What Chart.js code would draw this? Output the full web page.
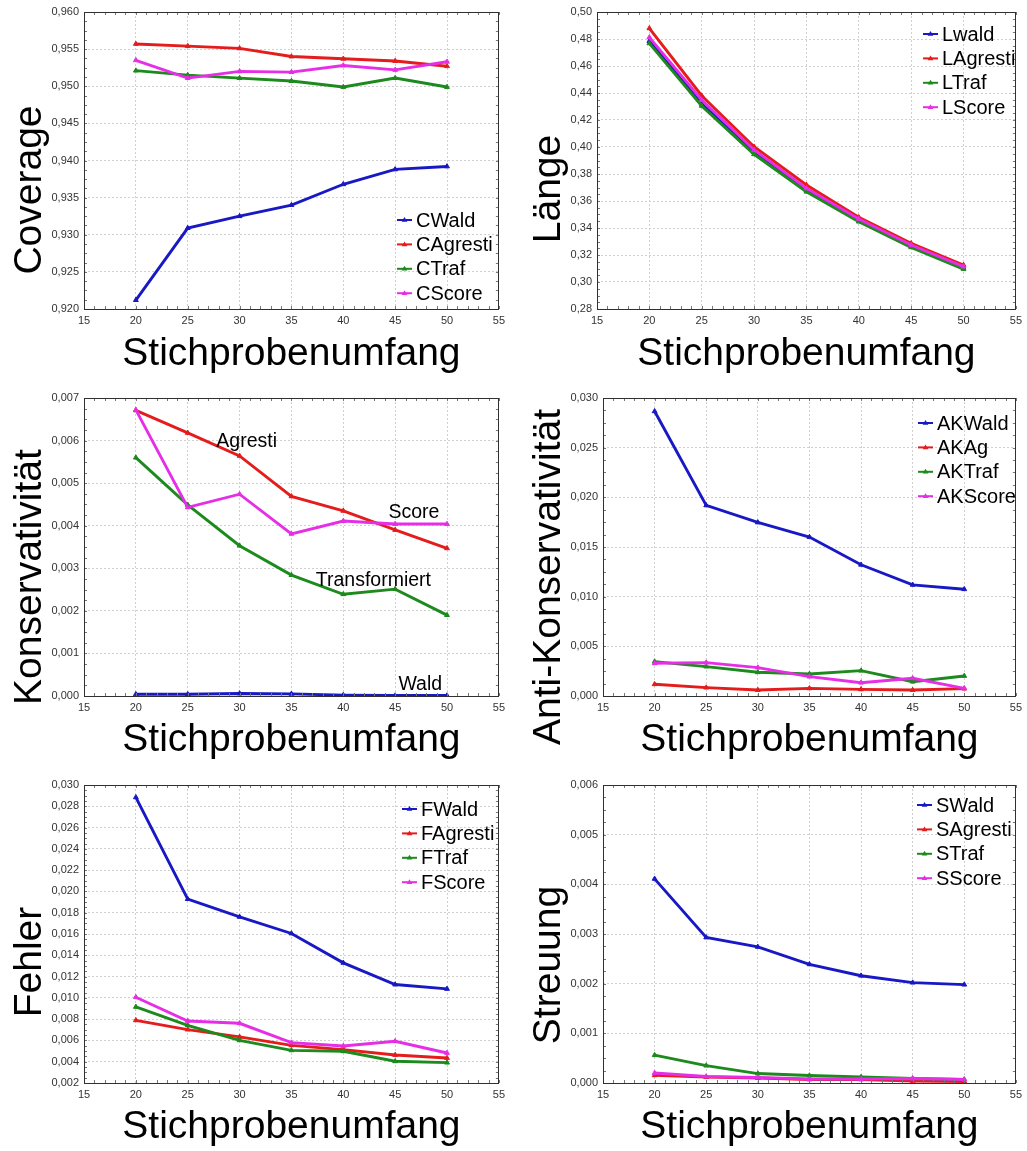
<!DOCTYPE html>
<html>
<head>
<meta charset="utf-8">
<script src="https://cdn.jsdelivr.net/npm/chart.js@4.4.0/dist/chart.umd.min.js"></script>
<style>
html,body{margin:0;padding:0;background:#fff;}
#wrap{position:relative;width:1027px;height:1151px;overflow:hidden;background:#fff;}
.cell{position:absolute;}
canvas{display:block;}
</style>
</head>
<body>
<div id="wrap">
  <div class="cell" style="left:0px;top:0px"><canvas id="c1" width="510" height="380"></canvas></div>
  <div class="cell" style="left:510px;top:0px"><canvas id="c2" width="517" height="380"></canvas></div>
  <div class="cell" style="left:0px;top:380px"><canvas id="c3" width="510" height="380"></canvas></div>
  <div class="cell" style="left:510px;top:380px"><canvas id="c4" width="517" height="380"></canvas></div>
  <div class="cell" style="left:0px;top:760px"><canvas id="c5" width="510" height="391"></canvas></div>
  <div class="cell" style="left:510px;top:760px"><canvas id="c6" width="517" height="391"></canvas></div>
</div>
<script>
// ---------------- DATA ----------------
const sampleSizes = [20, 25, 30, 35, 40, 45, 50];
const xAxisMin = 15, xAxisMax = 55, xAxisStep = 5;
const xAxisTitle = 'Stichprobenumfang';

// Coverage
const cWald    = [0.9212, 0.9309, 0.9325, 0.9340, 0.9368, 0.9388, 0.9392];
const cAgresti = [0.9557, 0.9554, 0.9551, 0.9540, 0.9537, 0.9534, 0.9527];
const cTraf    = [0.9521, 0.9515, 0.9511, 0.9507, 0.9499, 0.9511, 0.9499];
const cScore   = [0.9535, 0.9511, 0.9520, 0.9519, 0.9528, 0.9522, 0.9533];
const cLabels  = ['CWald', 'CAgresti', 'CTraf', 'CScore'];

// Länge
const lWald    = [0.4785, 0.4320, 0.3960, 0.3680, 0.3455, 0.3265, 0.3105];
const lAgresti = [0.4879, 0.4380, 0.4002, 0.3719, 0.3479, 0.3287, 0.3126];
const lTraf    = [0.4768, 0.4304, 0.3946, 0.3669, 0.3447, 0.3257, 0.3096];
const lScore   = [0.4812, 0.4348, 0.3978, 0.3694, 0.3467, 0.3274, 0.3114];
const lLabels  = ['Lwald', 'LAgresti', 'LTraf', 'LScore'];

// Konservativität
const kWald    = [0.00004, 0.00004, 0.00006, 0.00005, 0.00002, 0.00001, 0.00001];
const kAgresti = [0.00671, 0.00618, 0.00564, 0.00469, 0.00435, 0.00390, 0.00347];
const kTraf    = [0.00560, 0.00449, 0.00353, 0.00284, 0.00239, 0.00251, 0.00190];
const kScore   = [0.00672, 0.00443, 0.00474, 0.00381, 0.00411, 0.00404, 0.00404];
const kLabels  = ['Wald', 'Agresti', 'Transformiert', 'Score'];
const kNotes   = ['Agresti', 'Score', 'Transformiert', 'Wald'];

// Anti-Konservativität
const akWald   = [0.02866, 0.01919, 0.01747, 0.01600, 0.01321, 0.01119, 0.01075];
const akAg     = [0.00118, 0.00084, 0.00060, 0.00077, 0.00067, 0.00060, 0.00074];
const akTraf   = [0.00346, 0.00296, 0.00239, 0.00222, 0.00255, 0.00144, 0.00202];
const akScore  = [0.00329, 0.00336, 0.00286, 0.00195, 0.00134, 0.00178, 0.00077];
const akLabels = ['AKWald', 'AKAg', 'AKTraf', 'AKScore'];

// Fehler
const fWald    = [0.02884, 0.01928, 0.01761, 0.01605, 0.01329, 0.01125, 0.01084];
const fAgresti = [0.00789, 0.00702, 0.00633, 0.00554, 0.00514, 0.00463, 0.00435];
const fTraf    = [0.00915, 0.00742, 0.00601, 0.00507, 0.00498, 0.00404, 0.00391];
const fScore   = [0.01006, 0.00783, 0.00761, 0.00579, 0.00548, 0.00592, 0.00482];
const fLabels  = ['FWald', 'FAgresti', 'FTraf', 'FScore'];

// Streuung
const sWald    = [0.00411, 0.00293, 0.00274, 0.00239, 0.00216, 0.00202, 0.00198];
const sAgresti = [0.000155, 0.00012, 0.00010, 0.00007, 0.00007, 0.00004, 0.00003];
const sTraf    = [0.00056, 0.00035, 0.00019, 0.00015, 0.00012, 0.00009, 0.00007];
const sScore   = [0.00020, 0.00013, 0.00011, 0.00008, 0.00008, 0.00009, 0.00007];
const sLabels  = ['SWald', 'SAgresti', 'STraf', 'SScore'];

// y-axis ranges [min, max, step, decimals]
const yCoverage = [0.920, 0.960, 0.005, 3];
const yLaenge   = [0.28, 0.50, 0.02, 2];
const yKons     = [0.000, 0.007, 0.001, 3];
const yAnti     = [0.000, 0.030, 0.005, 3];
const yFehler   = [0.002, 0.030, 0.002, 3];
const yStreu    = [0.000, 0.006, 0.001, 3];

// ---------------- STYLE / LAYOUT ----------------
const FONT = '"Liberation Sans", Arial, Helvetica, sans-serif';
const COLORS = ['#1818c4', '#e41c1c', '#1c8a1c', '#e62ee6'];
const DRAW_ORDER = [4, 3, 2, 1];

const panels = [
  { id: 'c1', cell: [0, 0, 510, 380], plot: [84, 501, 12, 309], xMid: 354,
    yTitle: 'Coverage', yTx: 41, yTcy: 190, y: yCoverage,
    series: [cWald, cAgresti, cTraf, cScore], labels: cLabels, legend: [397, 220] },
  { id: 'c2', cell: [510, 0, 517, 380], plot: [597, 1020, 12, 309], xMid: 354,
    yTitle: 'Länge', yTx: 50, yTcy: 189, y: yLaenge,
    series: [lWald, lAgresti, lTraf, lScore], labels: lLabels, legend: [923, 34] },
  { id: 'c3', cell: [0, 380, 510, 380], plot: [84, 501, 398, 696], xMid: 740,
    yTitle: 'Konservativität', yTx: 41, yTcy: 577, y: yKons,
    series: [kWald, kAgresti, kTraf, kScore], labels: kLabels, legend: null,
    notes: kNotes, notePos: [[27.76, 0.00585], [44.35, 0.00418], [37.35, 0.00258], [45.31, 0.00014]] },
  { id: 'c4', cell: [510, 380, 517, 380], plot: [603, 1020, 398, 696], xMid: 740,
    yTitle: 'Anti-Konservativität', yTx: 50, yTcy: 577, y: yAnti,
    series: [akWald, akAg, akTraf, akScore], labels: akLabels, legend: [918, 423] },
  { id: 'c5', cell: [0, 760, 510, 391], plot: [84, 501, 785, 1083], xMid: 1127,
    yTitle: 'Fehler', yTx: 41, yTcy: 962, y: yFehler,
    series: [fWald, fAgresti, fTraf, fScore], labels: fLabels, legend: [402, 809] },
  { id: 'c6', cell: [510, 760, 517, 391], plot: [603, 1020, 785, 1083], xMid: 1127,
    yTitle: 'Streuung', yTx: 50, yTcy: 965, y: yStreu,
    series: [sWald, sAgresti, sTraf, sScore], labels: sLabels, legend: [917, 805] }
];

const TITLE_SIZE = 39;

function drawTriangle(ctx, cx, cy, r, color) {
  ctx.fillStyle = color;
  ctx.beginPath();
  ctx.moveTo(cx, cy - r);
  ctx.lineTo(cx + r * 0.95, cy + r * 0.6);
  ctx.lineTo(cx - r * 0.95, cy + r * 0.6);
  ctx.closePath();
  ctx.fill();
}

const decor = {
  id: 'decor',
  afterDraw(chart, args, o) {
    const { ctx, chartArea: a } = chart;
    const xs = chart.scales.x, ys = chart.scales.y;
    ctx.save();
    // minor ticks on frame
    ctx.strokeStyle = '#777';
    ctx.lineWidth = 1;
    ctx.beginPath();
    for (let v = xAxisMin; v <= xAxisMax + 1e-9; v += 1) {
      const px = Math.round(xs.getPixelForValue(v)) + 0.5;
      ctx.moveTo(px, a.top); ctx.lineTo(px, a.top + 3);
      ctx.moveTo(px, a.bottom); ctx.lineTo(px, a.bottom - 3);
    }
    const [ymin, ymax, ystep] = o.y;
    const nMinor = Math.round((ymax - ymin) / ystep) * 4;
    for (let i = 0; i <= nMinor; i++) {
      const v = ymin + (ymax - ymin) * i / nMinor;
      const py = Math.round(ys.getPixelForValue(v)) + 0.5;
      ctx.moveTo(a.left, py); ctx.lineTo(a.left + 3, py);
      ctx.moveTo(a.right, py); ctx.lineTo(a.right - 3, py);
    }
    ctx.stroke();
    // frame
    ctx.strokeStyle = '#303030';
    ctx.strokeRect(Math.round(a.left) + 0.5, Math.round(a.top) + 0.5,
                   Math.round(a.right - a.left) - 1, Math.round(a.bottom - a.top));
    // y title (rotated)
    ctx.fillStyle = '#000';
    ctx.font = TITLE_SIZE + 'px ' + FONT;
    ctx.textAlign = 'center';
    ctx.textBaseline = 'alphabetic';
    ctx.save();
    ctx.translate(o.yTx, o.yTcy);
    ctx.rotate(-Math.PI / 2);
    ctx.fillText(o.yTitle, 0, 0);
    ctx.restore();
    // legend
    if (o.legend) {
      ctx.font = '20px ' + FONT;
      ctx.textAlign = 'left';
      ctx.textBaseline = 'middle';
      chart.data.datasets.forEach((ds, i) => {
        const lx = o.legend[0], ly = o.legend[1] + i * 24.4;
        ctx.strokeStyle = ds.borderColor;
        ctx.lineWidth = 2;
        ctx.beginPath();
        ctx.moveTo(lx, ly); ctx.lineTo(lx + 15, ly);
        ctx.stroke();
        drawTriangle(ctx, lx + 7.5, ly, 3, ds.borderColor);
        ctx.fillStyle = '#000';
        ctx.fillText(ds.label, lx + 19, ly + 1);
      });
    }
    // notes placed in data coordinates
    if (o.notes) {
      ctx.font = '19.5px ' + FONT;
      ctx.textAlign = 'left';
      ctx.textBaseline = 'alphabetic';
      ctx.fillStyle = '#000';
      o.notes.forEach((t, i) => {
        const p = o.notePos[i];
        ctx.fillText(t, xs.getPixelForValue(p[0]), ys.getPixelForValue(p[1]));
      });
    }
    ctx.restore();
  }
};

panels.forEach(p => {
  const [cx, cy, cw, ch] = p.cell;
  const [pl, pr, pt, pb] = p.plot;
  const scaleBottom = p.xMid + TITLE_SIZE / 2;
  const [ymin, ymax, ystep, dec] = p.y;
  const datasets = p.series.map((vals, i) => ({
    label: p.labels[i],
    data: sampleSizes.map((n, j) => ({ x: n, y: vals[j] })),
    borderColor: COLORS[i],
    backgroundColor: COLORS[i],
    pointBackgroundColor: COLORS[i],
    pointBorderColor: COLORS[i],
    pointStyle: 'triangle',
    pointRadius: 2.8,
    pointBorderWidth: 1,
    borderWidth: 2.9,
    tension: 0,
    fill: false,
    order: DRAW_ORDER[i]
  }));
  new Chart(document.getElementById(p.id), {
    type: 'line',
    data: { datasets },
    options: {
      responsive: false,
      animation: false,
      events: [],
      layout: { padding: { top: pt - cy, right: cx + cw - pr, left: 0, bottom: cy + ch - scaleBottom } },
      plugins: {
        legend: { display: false },
        tooltip: { enabled: false },
        decor: { y: p.y, yTitle: p.yTitle, yTx: p.yTx, yTcy: p.yTcy - cy,
                 legend: p.legend ? [p.legend[0] - cx, p.legend[1] - cy] : null,
                 notes: p.notes, notePos: p.notePos }
      },
      scales: {
        x: {
          type: 'linear', min: xAxisMin, max: xAxisMax,
          ticks: { stepSize: xAxisStep, color: '#333', font: { family: FONT, size: 11 }, padding: 5, maxRotation: 0, autoSkip: false },
          grid: { color: '#cfcfcf', lineWidth: 1, drawTicks: false },
          border: { display: false, dash: [2, 2] },
          title: { display: true, text: xAxisTitle, color: '#000', font: { family: FONT, size: TITLE_SIZE, lineHeight: 1 }, padding: 0 },
          afterFit: s => { s.height = scaleBottom - pb; }
        },
        y: {
          type: 'linear', min: ymin, max: ymax,
          ticks: { stepSize: ystep, color: '#333', font: { family: FONT, size: 11 }, padding: 5,
                   callback: v => Number(v).toFixed(dec).replace('.', ',') },
          grid: { color: '#cfcfcf', lineWidth: 1, drawTicks: false },
          border: { display: false, dash: [2, 2] },
          afterFit: s => { s.width = pl - cx; }
        }
      }
    },
    plugins: [decor]
  });
});
</script>
</body>
</html>
